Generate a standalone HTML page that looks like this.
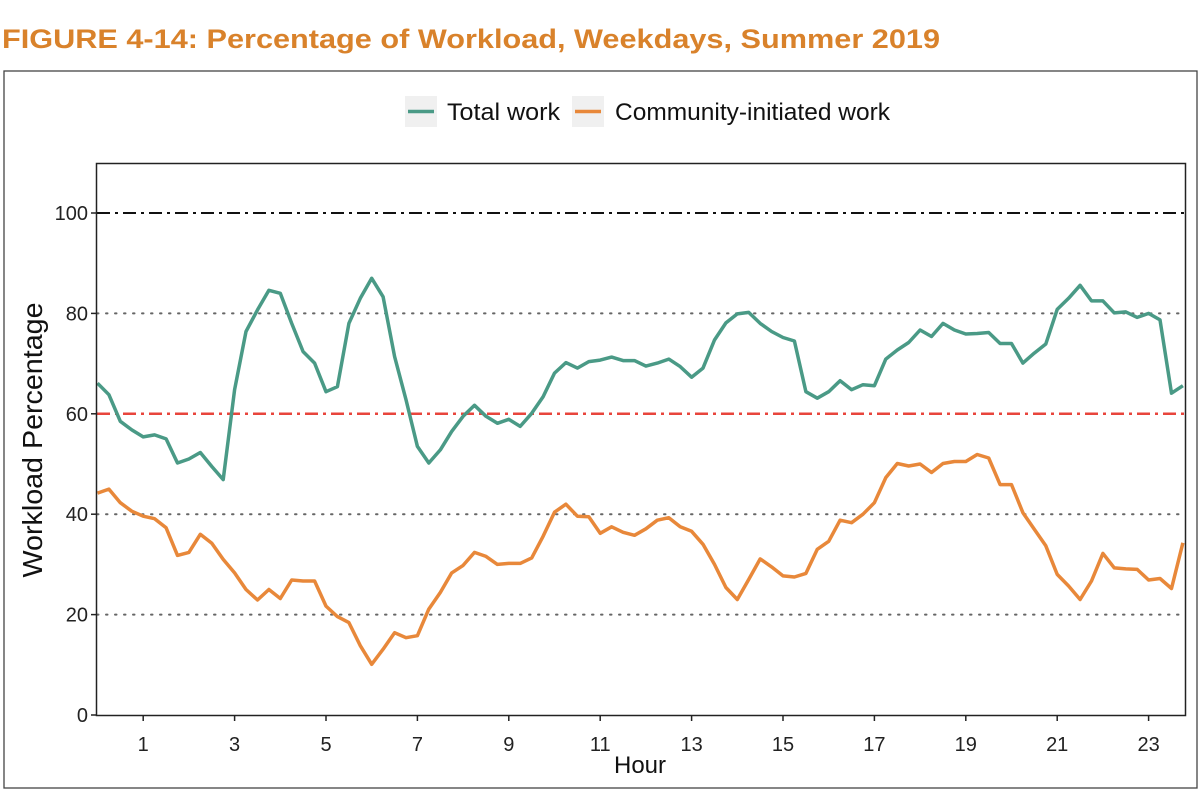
<!DOCTYPE html>
<html><head><meta charset="utf-8"><style>
body{margin:0;background:#fff;}
svg{display:block;font-family:"Liberation Sans",Arial,sans-serif;}
</style></head><body>
<svg id="chart" width="1200" height="791" viewBox="0 0 1200 791" xmlns="http://www.w3.org/2000/svg">
<text x="2" y="48" font-size="27" font-weight="bold" fill="#D9822B" textLength="938" lengthAdjust="spacingAndGlyphs">FIGURE 4-14: Percentage of Workload, Weekdays, Summer 2019</text>
<rect x="4" y="71" width="1193" height="717" fill="none" stroke="#444" stroke-width="1.3"/>
<g>
<rect x="405" y="96" width="32" height="31" fill="#f0f0f0"/>
<line x1="408" y1="111.5" x2="434" y2="111.5" stroke="#4A9A86" stroke-width="3.5"/>
<text x="447" y="120" font-size="24" fill="#111" textLength="113" lengthAdjust="spacingAndGlyphs">Total work</text>
<rect x="572" y="96" width="32" height="31" fill="#f0f0f0"/>
<line x1="575" y1="111.5" x2="601" y2="111.5" stroke="#E8883A" stroke-width="3.5"/>
<text x="615" y="120" font-size="24" fill="#111" textLength="275" lengthAdjust="spacingAndGlyphs">Community-initiated work</text>
</g>
<g id="grid"></g>
<g id="axes"></g>
<g id="series"></g>
<rect x="96.5" y="163.5" width="1089" height="552" fill="none" stroke="#222" stroke-width="1.5"/>
<text transform="translate(42,440) rotate(-90)" text-anchor="middle" font-size="28" fill="#111" textLength="275" lengthAdjust="spacingAndGlyphs">Workload Percentage</text>
<text x="640" y="773" text-anchor="middle" font-size="24" fill="#111">Hour</text>
</svg>
<script>
const totalWork=[66.1,63.8,58.5,56.8,55.4,55.8,55,50.2,51,52.3,49.5,46.9,64.8,76.4,80.7,84.6,84,78,72.4,70.1,64.4,65.4,78,83,87,83.3,71.4,62.8,53.5,50.2,52.8,56.5,59.5,61.7,59.5,58.1,58.9,57.5,60.1,63.4,68.1,70.2,69.1,70.4,70.7,71.3,70.6,70.6,69.5,70.1,70.9,69.4,67.3,69.1,74.7,78.1,79.9,80.2,78,76.4,75.2,74.5,64.4,63.1,64.4,66.6,64.8,65.8,65.6,70.9,72.7,74.2,76.7,75.4,78,76.7,75.9,76,76.2,74,74,70.1,72.1,73.9,80.8,83,85.6,82.5,82.5,80.1,80.3,79.2,80,78.7,64.1,65.6];
const communityWork=[44.2,45,42.3,40.6,39.6,39.1,37.3,31.8,32.4,36,34.2,31,28.3,25,22.9,25,23.2,26.9,26.7,26.7,21.7,19.6,18.4,13.8,10.1,13.1,16.4,15.4,15.8,21.1,24.4,28.3,29.8,32.4,31.6,30,30.2,30.2,31.3,35.6,40.4,42,39.6,39.5,36.2,37.5,36.4,35.8,37.1,38.8,39.3,37.5,36.6,34,30,25.4,23,27,31.1,29.5,27.7,27.5,28.2,33,34.6,38.8,38.3,40,42.3,47.3,50.1,49.6,50,48.3,50.1,50.5,50.5,51.9,51.2,45.9,45.9,40.3,37,33.7,28,25.7,23,26.7,32.2,29.3,29.1,29,26.9,27.2,25.2,34.3];
const yTicks=[0,20,40,60,80,100];
const xTicks=[1,3,5,7,9,11,13,15,17,19,21,23];
const gridValues=[20,40,80];
const thresholdTotal=100;
const thresholdTarget=60;
</script>
<script>
const NS="http://www.w3.org/2000/svg";
const X0=97.5,XH=45.7,Y0=715,YU=5.02;
const xs=h=>X0+h*XH, ys=v=>Y0-v*YU;
function mk(t,a,p){const e=document.createElementNS(NS,t);for(const k in a)e.setAttribute(k,a[k]);p.appendChild(e);return e;}
const grid=document.getElementById('grid'),axes=document.getElementById('axes'),series=document.getElementById('series');
gridValues.forEach(v=>{
  const l=mk('line',{x1:97,x2:1185,y1:ys(v),y2:ys(v),stroke:'#666','stroke-width':2,'stroke-dasharray':'1.5 7.5','stroke-linecap':'round'},grid);
  
  
});
const l100=mk('line',{x1:97,x2:1185,y1:ys(thresholdTotal),y2:ys(thresholdTotal),stroke:'#111','stroke-width':2,'stroke-dasharray':'13 5 3 5'},grid);


const l60=mk('line',{x1:97,x2:1185,y1:ys(thresholdTarget),y2:ys(thresholdTarget),stroke:'#E8453C','stroke-width':2.5,'stroke-dasharray':'13 5 3 5'},grid);


yTicks.forEach(v=>{
  const t=mk('line',{x1:91,x2:96,y1:ys(v),y2:ys(v),stroke:'#222','stroke-width':1.5},axes);
  
  
  const tx=mk('text',{x:88,y:ys(v)+7,'text-anchor':'end','font-size':20,fill:'#222'},axes);
  tx.textContent=v;
  
  
});
xTicks.forEach(h=>{
  const t=mk('line',{x1:xs(h),x2:xs(h),y1:716,y2:721,stroke:'#222','stroke-width':1.5},axes);
  
  
  const tx=mk('text',{x:xs(h),y:751,'text-anchor':'middle','font-size':20,fill:'#222'},axes);
  tx.textContent=h;
  
  
});
function line(data,color,name){
  const d=data.map((v,i)=>(i?'L':'M')+xs(i/4).toFixed(1)+' '+ys(v).toFixed(1)).join(' ');
  const p=mk('path',{d:d,fill:'none',stroke:color,'stroke-width':3.5,'stroke-linejoin':'round'},series);
  
  
}
line(totalWork,'#4A9A86','total-work-line');
line(communityWork,'#E8883A','community-work-line');
</script>
</body></html>
